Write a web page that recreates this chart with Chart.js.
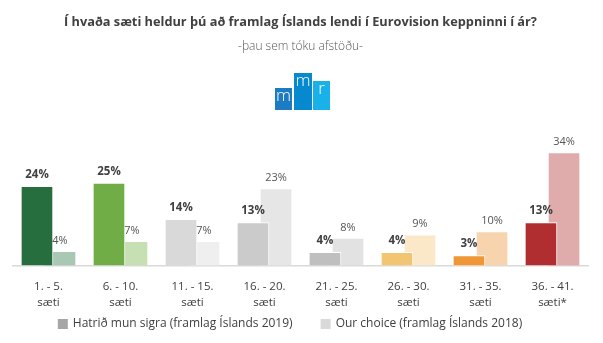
<!DOCTYPE html>
<html>
<head>
<meta charset="utf-8">
<script src="https://cdn.jsdelivr.net/npm/chart.js@4"></script>
<style>
  body { margin: 0; background: #fff; }
  #wrap { position: relative; width: 603px; height: 343px; }
  #logo { position: absolute; left: 275px; top: 73px; width: 56px; height: 37px; }
  .lb { position: absolute; bottom: 0; color: #fff; font: 300 17px "Open Sans", sans-serif;
        text-align: center; line-height: 14px; }
</style>
</head>
<body>
<div id="wrap">
  <canvas id="chart" width="603" height="343"></canvas>
  <div id="logo">
    <div class="lb" style="left:0;width:17px;height:22px;background:#1b7cc3;">m</div>
    <div class="lb" style="left:19px;width:18px;height:37px;background:#0789d0;">m</div>
    <div class="lb" style="left:38px;width:17px;height:29px;background:#19b1ea;">r</div>
  </div>
</div>
<script>
const categories = [
  ['1. - 5.', 'sæti'], ['6. - 10.', 'sæti'], ['11. - 15.', 'sæti'], ['16. - 20.', 'sæti'],
  ['21. - 25.', 'sæti'], ['26. - 30.', 'sæti'], ['31. - 35.', 'sæti'], ['36. - 41.', 'sæti*']
];
const hatridValues = [24, 25, 14, 13, 4, 4, 3, 13];
const ourChoiceValues = [4, 7, 7, 23, 8, 9, 10, 34];

const hatridColors = ['#276e3f', '#70ad47', '#d9d9d9', '#cbcbcb', '#bfbfbf', '#f2c572', '#ef9636', '#b02e30'];
const ourChoiceColors = ['#a9c8b3', '#c6e0b4', '#efefef', '#e6e6e6', '#e2e2e2', '#fae8c8', '#f7d4ad', '#e0abab'];
const legendColors = ['#a6a6a6', '#d9d9d9'];
const seriesNames = ['Hatrið mun sigra (framlag Íslands 2019)', 'Our choice (framlag Íslands 2018)'];

const shift = 0.16; // tvær súlur skarast innan hvers flokks
const fontFamily = '"Open Sans", sans-serif';

Chart.defaults.font.family = fontFamily;
Chart.defaults.color = '#404040';

// prósentutölur fyrir ofan súlurnar
const valueLabels = {
  id: 'valueLabels',
  afterDatasetsDraw(chart) {
    const ctx = chart.ctx;
    for (let di = chart.data.datasets.length - 1; di >= 0; di--) {
      const ds = chart.data.datasets[di];
      const meta = chart.getDatasetMeta(di);
      ctx.save();
      ctx.textAlign = 'center';
      ctx.textBaseline = 'bottom';
      ctx.font = di === 0 ? 'bold 11.5px ' + fontFamily : '11px ' + fontFamily;
      ctx.fillStyle = di === 0 ? '#404040' : '#555555';
      meta.data.forEach((bar, i) => {
        ctx.fillText(ds.data[i].y + '%', bar.x, bar.y - 6);
      });
      ctx.restore();
    }
  }
};

// skýringar neðst, teiknaðar sjálf til að ráða bilinu milli þeirra
const bottomLegend = {
  id: 'bottomLegend',
  afterDraw(chart) {
    const ctx = chart.ctx;
    const box = 10, gap = 5, spacing = 28, y = 324;
    ctx.save();
    ctx.font = '12px ' + fontFamily;
    ctx.textBaseline = 'middle';
    const widths = seriesNames.map(n => box + gap + ctx.measureText(n).width);
    const total = widths.reduce((a, b) => a + b, 0) + spacing * (widths.length - 1);
    let x = 290 - total / 2;
    seriesNames.forEach((name, i) => {
      ctx.fillStyle = legendColors[i];
      ctx.fillRect(x, y - box / 2, box, box);
      ctx.fillStyle = '#404040';
      ctx.fillText(name, x + box + gap, y);
      x += widths[i] + spacing;
    });
    ctx.restore();
  }
};

new Chart(document.getElementById('chart'), {
  type: 'bar',
  data: {
    datasets: [
      {
        label: seriesNames[0],
        data: hatridValues.map((v, i) => ({ x: i - shift, y: v })),
        backgroundColor: hatridColors,
        borderColor: '#ffffff',
        borderWidth: { top: 1, left: 1, right: 1, bottom: 0 },
        borderSkipped: false,
        barThickness: 32,
        grouped: false
      },
      {
        label: seriesNames[1],
        data: ourChoiceValues.map((v, i) => ({ x: i + shift, y: v })),
        backgroundColor: ourChoiceColors,
        borderWidth: 0,
        barThickness: 30,
        grouped: false
      }
    ]
  },
  options: {
    responsive: false,
    animation: false,
    layout: { padding: { left: 12.5, right: 14.5, bottom: 26.5 } },
    plugins: {
      title: {
        display: true,
        text: 'Í hvaða sæti heldur þú að framlag Íslands lendi í Eurovision keppninni í ár?',
        font: { size: 12.75, weight: 'bold', lineHeight: 1.2 },
        color: '#404040',
        padding: { top: 15, bottom: 9 }
      },
      subtitle: {
        display: true,
        text: '-þau sem tóku afstöðu-',
        font: { size: 12, weight: '300', lineHeight: 1.2 },
        color: '#595959',
        padding: { bottom: 80 }
      },
      legend: { display: false },
      tooltip: { enabled: false }
    },
    scales: {
      x: {
        type: 'linear',
        offset: false,
        min: -0.5,
        max: categories.length - 0.5,
        afterBuildTicks: scale => {
          scale.ticks = categories.map((c, i) => ({ value: i }));
        },
        ticks: {
          callback: (value) => categories[value],
          font: { size: 11.5, lineHeight: 1.35 },
          color: '#404040',
          padding: 6,
          maxRotation: 0,
          autoSkip: false
        },
        grid: { display: false },
        border: { display: true, color: '#d9d9d9', width: 1.5 }
      },
      y: {
        display: false,
        min: 0,
        max: 40
      }
    }
  },
  plugins: [valueLabels, bottomLegend]
});
</script>
</body>
</html>
